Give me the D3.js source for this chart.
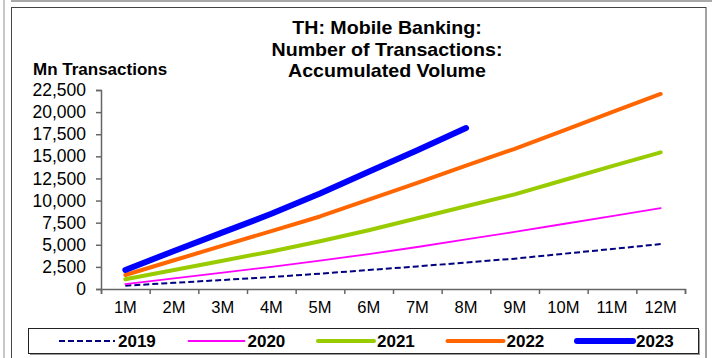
<!DOCTYPE html>
<html>
<head>
<meta charset="utf-8">
<script src="https://cdn.jsdelivr.net/npm/d3@7"></script>
<style>
  body { margin: 0; background: #fff; }
  svg { display: block; font-family: Arial, "Liberation Sans", sans-serif; }
</style>
</head>
<body>
<svg id="chart" width="712" height="358"></svg>
<script>
// data (Mn transactions, accumulated)
const months = ["1M","2M","3M","4M","5M","6M","7M","8M","9M","10M","11M","12M"];
const years = ["2019","2020","2021","2022","2023"];
const v2019 = [370, 700, 1020, 1350, 1730, 2150, 2550, 3000, 3430, 3980, 4520, 5080];
const v2020 = [560, 1200, 1850, 2500, 3200, 3950, 4750, 5600, 6450, 7350, 8250, 9150];
const v2021 = [1100, 2150, 3200, 4250, 5400, 6650, 8000, 9350, 10700, 12300, 13900, 15450];
const v2022 = [1580, 3250, 4900, 6550, 8200, 10100, 12000, 13950, 15850, 17900, 20000, 22050];
const v2023 = [2150, 4300, 6400, 8500, 10800, 13250, 15700, 18200];
const yTicks = [0, 2500, 5000, 7500, 10000, 12500, 15000, 17500, 20000, 22500];
const titleLines = ["TH: Mobile Banking:", "Number of Transactions:", "Accumulated Volume"];

const seriesStyle = {
  "2019": {color: "#000080", width: 2, dash: "6,3"},
  "2020": {color: "#ff00ff", width: 1.8, dash: null},
  "2021": {color: "#99cc00", width: 4, dash: null},
  "2022": {color: "#ff6600", width: 4, dash: null},
  "2023": {color: "#0000ff", width: 6, dash: null}
};
const seriesData = {"2019": v2019, "2020": v2020, "2021": v2021, "2022": v2022, "2023": v2023};

const svg = d3.select("#chart");
const plot = {left: 101, right: 685, top: 90, bottom: 289};

// page frame
svg.append("rect").attr("x", 3).attr("y", 0).attr("width", 2).attr("height", 358).attr("fill", "#c8c8c8");
svg.append("rect").attr("x", 11).attr("y", 0).attr("width", 701).attr("height", 2).attr("fill", "#a8a8a8");
svg.append("rect")
  .attr("x", 11.5).attr("y", 7.5).attr("width", 694.5).attr("height", 360)
  .attr("fill", "#fff").attr("stroke", "#444").attr("stroke-width", 1);

// title (slightly stretched like the original)
svg.append("g").selectAll("text")
  .data(titleLines)
  .enter().append("text")
  .attr("transform", (d, i) => "translate(387," + (34 + i * 21.5) + ") scale(1.09,1)")
  .attr("text-anchor", "middle")
  .attr("font-size", 18)
  .attr("font-weight", "bold")
  .text(d => d);

svg.append("text")
  .attr("x", 33).attr("y", 75)
  .attr("font-size", 17)
  .attr("font-weight", "bold")
  .text("Mn Transactions");

const x = d3.scaleBand().domain(months).range([plot.left, plot.right]);
const xEdge = d3.scaleLinear().domain([0, months.length]).range([plot.left, plot.right]);
const y = d3.scaleLinear().domain([0, 22500]).range([plot.bottom, plot.top]);

// y axis
const yAxis = svg.append("g")
  .attr("transform", "translate(" + plot.left + ",0)")
  .call(d3.axisLeft(y).tickValues(yTicks).tickSize(5).tickPadding(10).tickFormat(d3.format(",")));
yAxis.selectAll("text").attr("font-size", 17.5).attr("fill", "#000").attr("font-family", "Arial, 'Liberation Sans', sans-serif");

// x axis: ticks on category edges, labels in the middle
svg.append("g")
  .attr("transform", "translate(0," + plot.bottom + ")")
  .call(d3.axisBottom(xEdge).tickValues(d3.range(months.length + 1)).tickSize(5).tickFormat(""));
const xLabelAxis = svg.append("g")
  .attr("transform", "translate(0," + plot.bottom + ")")
  .call(d3.axisBottom(x).tickSize(0).tickPadding(12));
xLabelAxis.select(".domain").remove();
xLabelAxis.selectAll("text").attr("font-size", 16.5).attr("fill", "#000").attr("font-family", "Arial, 'Liberation Sans', sans-serif");

svg.selectAll(".domain, .tick line").attr("stroke", "#666").attr("stroke-width", 1.5);

// lines
const line = d3.line()
  .x((d, i) => x(months[i]) + x.bandwidth() / 2)
  .y(d => y(d));

years.forEach(function(yr){
  const st = seriesStyle[yr];
  svg.append("path")
    .datum(seriesData[yr])
    .attr("d", line)
    .attr("fill", "none")
    .attr("stroke", st.color)
    .attr("stroke-width", st.width)
    .attr("stroke-linecap", st.dash ? "butt" : "round")
    .attr("stroke-linejoin", "round")
    .attr("stroke-dasharray", st.dash);
});

// legend
const legend = svg.append("g");
legend.append("rect")
  .attr("x", 30).attr("y", 330).attr("width", 670).attr("height", 25)
  .attr("fill", "#999");
legend.append("rect")
  .attr("x", 28.5).attr("y", 328.5).attr("width", 670).attr("height", 25)
  .attr("fill", "#fff").attr("stroke", "#222").attr("stroke-width", 1);

const items = legend.selectAll(".item")
  .data(years)
  .enter().append("g")
  .attr("class", "item")
  .attr("transform", (d, i) => "translate(" + (59 + i * 129.5) + ",341)");
items.append("line")
  .attr("x1", 0).attr("x2", 56).attr("y1", 0).attr("y2", 0)
  .attr("stroke", d => seriesStyle[d].color)
  .attr("stroke-width", d => seriesStyle[d].width)
  .attr("stroke-linecap", d => seriesStyle[d].dash ? "butt" : "round")
  .attr("stroke-dasharray", d => seriesStyle[d].dash);
items.append("text")
  .attr("x", 59).attr("y", 6)
  .attr("font-size", 17)
  .attr("font-weight", "bold")
  .text(d => d);
</script>
</body>
</html>
